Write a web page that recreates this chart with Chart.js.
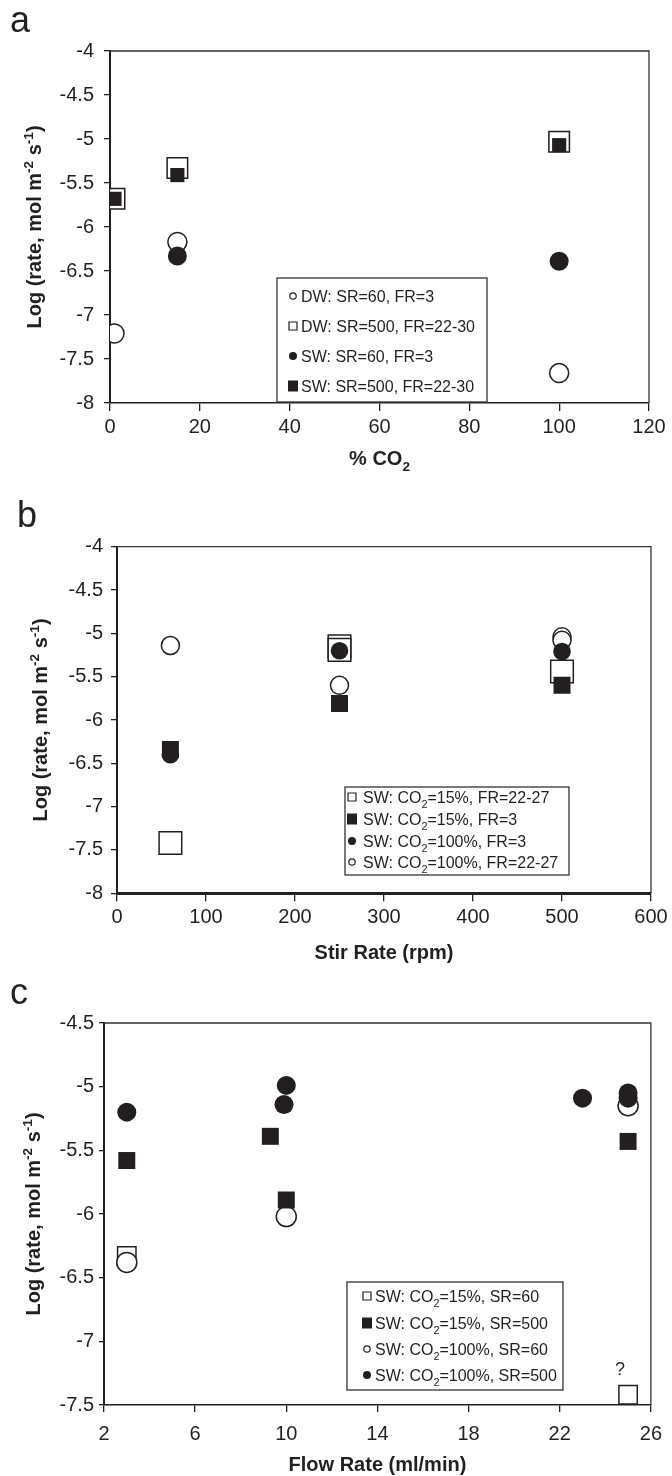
<!DOCTYPE html>
<html>
<head>
<meta charset="utf-8">
<script src="https://cdn.jsdelivr.net/npm/chart.js@4.4.0/dist/chart.umd.min.js"></script>
<style>
  body { margin: 0; background: #fff; width: 672px; height: 1476px; position: relative; overflow: hidden; }
  canvas { position: absolute; left: 0; display: block; }
</style>
</head>
<body>
<canvas id="ca" width="672" height="485" style="top:0px"></canvas>
<canvas id="cb" width="672" height="490" style="top:485px"></canvas>
<canvas id="cc" width="672" height="501" style="top:975px"></canvas>
<script>
// ---- panel a : % CO2 ----
const aDw60X = [1, 15, 100]
const aDw60Y = [-7.21, -6.17, -7.66]
const aDw500X = [1, 15, 100]
const aDw500Y = [-5.68, -5.33, -5.03]
const aSw60X = [15, 100]
const aSw60Y = [-6.33, -6.39]
const aSw500X = [1, 15, 100]
const aSw500Y = [-5.68, -5.41, -5.07]
const aLabels = ['DW: SR=60, FR=3', 'DW: SR=500, FR=22-30', 'SW: SR=60, FR=3', 'SW: SR=500, FR=22-30']

// ---- panel b : stir rate ----
const bOs15X = [60, 250, 250, 500]
const bOs15Y = [-7.42, -5.15, -5.19, -5.44]
const bFs15X = [60, 250, 500]
const bFs15Y = [-6.34, -5.81, -5.60]
const bFc100X = [60, 250, 500]
const bFc100Y = [-6.40, -5.20, -5.21]
const bOc100X = [60, 250, 500, 500]
const bOc100Y = [-5.14, -5.60, -5.04, -5.08]
const bLabels = ['SW: CO_{2}=15%, FR=22-27', 'SW: CO_{2}=15%, FR=3', 'SW: CO_{2}=100%, FR=3', 'SW: CO_{2}=100%, FR=22-27']

// ---- panel c : flow rate ----
const cOs15X = [3, 25]
const cOs15Y = [-6.33, -7.42]
const cFs15X = [3, 9.3, 10, 25]
const cFs15Y = [-5.58, -5.39, -5.89, -5.43]
const cOc100X = [3, 10, 25]
const cOc100Y = [-6.38, -6.02, -5.15]
const cFc100X = [3, 9.9, 10, 23, 25, 25]
const cFc100Y = [-5.20, -5.14, -4.99, -5.09, -5.05, -5.09]
const cLabels = ['SW: CO_{2}=15%, SR=60', 'SW: CO_{2}=15%, SR=500', 'SW: CO_{2}=100%, SR=60', 'SW: CO_{2}=100%, SR=500']
const cNote = { x: 25, y: -7.42, text: '?' }

const FONT = '"Liberation Sans", Arial, Helvetica, sans-serif'
const INK = '#231f20'
Chart.defaults.font.family = FONT
Chart.defaults.color = INK

function pts(xs, ys) {
    return xs.map((x, i) => ({ x: x, y: ys[i] }))
}

// kind: oc open circle, fc filled circle, os open square, fs filled square
function series(label, xs, ys, kind, r, order) {
    let open = kind[0] == 'o'
    return {
        label: label,
        data: pts(xs, ys),
        key: kind,
        order: order,
        pointStyle: kind[1] == 's' ? 'rect' : 'circle',
        pointRadius: r,
        pointHoverRadius: r,
        pointBackgroundColor: open ? '#fff' : INK,
        pointBorderColor: INK,
        pointBorderWidth: open ? 1.5 : 0
    }
}

// text with _{sub} and ^{sup} parts, y = baseline
function rich(ctx, str, x, y, size, weight, align) {
    let segs = str.split(/(_\{[^}]*\}|\^\{[^}]*\})/).filter(s => s).map(p => {
        if (p[0] == '_') return { t: p.slice(2, -1), s: size * 0.68, dy: size * 0.3 }
        if (p[0] == '^') return { t: p.slice(2, -1), s: size * 0.68, dy: -size * 0.42 }
        return { t: p, s: size, dy: 0 }
    })
    let w = 0
    segs.forEach(g => {
        ctx.font = weight + ' ' + g.s + 'px ' + FONT
        g.w = ctx.measureText(g.t).width
        w += g.w
    })
    let cx = align == 'center' ? x - w / 2 : x
    ctx.textAlign = 'left'
    ctx.textBaseline = 'alphabetic'
    segs.forEach(g => {
        ctx.font = weight + ' ' + g.s + 'px ' + FONT
        ctx.fillText(g.t, cx, y + g.dy)
        cx += g.w
    })
}

function drawKey(ctx, kind, x, y) {
    ctx.fillStyle = INK
    ctx.strokeStyle = INK
    ctx.lineWidth = 1.2
    ctx.beginPath()
    if (kind == 'oc') { ctx.arc(x, y, 3.2, 0, Math.PI * 2); ctx.fillStyle = '#fff'; ctx.fill(); ctx.stroke() }
    if (kind == 'fc') { ctx.arc(x, y, 4, 0, Math.PI * 2); ctx.fill() }
    if (kind == 'os') { ctx.rect(x - 4, y - 4, 8, 8); ctx.fillStyle = '#fff'; ctx.fill(); ctx.stroke() }
    if (kind == 'fs') { ctx.rect(x - 5, y - 5.5, 10, 11); ctx.fill() }
}

const decor = {
    id: 'decor',
    afterDraw(chart, args, o) {
        let ctx = chart.ctx, a = chart.chartArea
        ctx.save()
        ctx.strokeStyle = '#333'
        ctx.lineWidth = 1.3
        ctx.beginPath()
        ctx.moveTo(a.left, a.top)
        ctx.lineTo(a.right, a.top)
        ctx.lineTo(a.right, a.bottom)
        ctx.stroke()

        ctx.fillStyle = INK
        ctx.font = '36px ' + FONT
        ctx.textAlign = 'left'
        ctx.textBaseline = 'alphabetic'
        ctx.fillText(o.letter, o.letterX, o.letterY)

        rich(ctx, o.xTitle, (a.left + a.right) / 2, o.xTitleY, 20, 'bold', 'center')
        ctx.save()
        ctx.translate(o.yTitleX, (a.top + a.bottom) / 2)
        ctx.rotate(-Math.PI / 2)
        rich(ctx, o.yTitle, 0, 7, 20, 'bold', 'center')
        ctx.restore()

        let L = o.legend
        ctx.fillStyle = '#fff'
        ctx.fillRect(L.x, L.y, L.w, L.h)
        ctx.strokeStyle = '#333'
        ctx.lineWidth = 1.3
        ctx.strokeRect(L.x, L.y, L.w, L.h)
        L.order.forEach((di, i) => {
            let ds = chart.data.datasets[di]
            drawKey(ctx, ds.key, L.mx, L.rows[i])
            ctx.fillStyle = INK
            rich(ctx, ds.label, L.tx, L.rows[i] + 6, 16, 'normal', 'left')
        })

        if (o.note) {
            let px = chart.scales.x.getPixelForValue(o.note.x)
            let py = chart.scales.y.getPixelForValue(o.note.y)
            ctx.fillStyle = INK
            ctx.font = '18px ' + FONT
            ctx.textAlign = 'center'
            ctx.fillText(o.note.text, px - 8, py - 20)
        }
        ctx.restore()
    }
}

function makeChart(id, c) {
    return new Chart(id, {
        type: 'scatter',
        data: { datasets: c.datasets },
        plugins: [decor],
        options: {
            responsive: false,
            animation: false,
            devicePixelRatio: 1,
            layout: { padding: { left: 0, top: c.top, right: c.right, bottom: 0 } },
            plugins: {
                legend: { display: false },
                tooltip: { enabled: false },
                decor: c.decor
            },
            scales: {
                x: {
                    type: 'linear', min: c.xMin, max: c.xMax,
                    ticks: { stepSize: c.xStep, autoSkip: false, maxRotation: 0, padding: c.xPad, color: INK, font: { size: 20 }, callback: v => String(v) },
                    grid: { drawOnChartArea: false, tickLength: c.xTick, color: INK, lineWidth: 1.3 },
                    border: { color: INK, width: c.xBorder },
                    afterFit: s => { s.height = c.xH }
                },
                y: {
                    type: 'linear', min: c.yMin, max: c.yMax,
                    ticks: { stepSize: 0.5, autoSkip: false, padding: c.yPad, color: INK, font: { size: 20 }, callback: v => String(v) },
                    grid: { drawOnChartArea: false, tickLength: c.yTick, color: INK, lineWidth: 1.3 },
                    border: { color: INK, width: 2 },
                    afterFit: s => { s.width = c.yW }
                }
            }
        }
    })
}

const yTitle = 'Log (rate, mol m^{-2} s^{-1})'

makeChart('ca', {
    datasets: [
        series(aLabels[0], aDw60X, aDw60Y, 'oc', 9.5, 3),
        series(aLabels[1], aDw500X, aDw500Y, 'os', 14.5, 4),
        series(aLabels[2], aSw60X, aSw60Y, 'fc', 9.5, 1),
        series(aLabels[3], aSw500X, aSw500Y, 'fs', 10, 2)
    ],
    top: 51, right: 23, yW: 110, xH: 82,
    xMin: 0, xMax: 120, xStep: 20, yMin: -8, yMax: -4,
    xPad: 4, xTick: 8, yPad: 10, yTick: 6, xBorder: 1.6,
    decor: {
        letter: 'a', letterX: 10, letterY: 32,
        xTitle: '% CO_{2}', xTitleY: 465, yTitle: yTitle, yTitleX: 34,
        legend: { x: 277, y: 278, w: 210, h: 124, rows: [296, 326, 356, 386], mx: 293, tx: 301, order: [0, 1, 2, 3] }
    }
})

makeChart('cb', {
    datasets: [
        series(bLabels[0], bOs15X, bOs15Y, 'os', 16, 4),
        series(bLabels[1], bFs15X, bFs15Y, 'fs', 12, 2),
        series(bLabels[2], bFc100X, bFc100Y, 'fc', 8.8, 1),
        series(bLabels[3], bOc100X, bOc100Y, 'oc', 9, 3)
    ],
    top: 61.7, right: 21, yW: 117, xH: 81.7,
    xMin: 0, xMax: 600, xStep: 100, yMin: -8, yMax: -4,
    xPad: 4, xTick: 8, yPad: 8, yTick: 6, xBorder: 3,
    decor: {
        letter: 'b', letterX: 17, letterY: 41.7,
        xTitle: 'Stir Rate (rpm)', xTitleY: 473.6, yTitle: yTitle, yTitleX: 40,
        legend: { x: 345, y: 302, w: 224, h: 88, rows: [312, 334, 356, 377], mx: 352, tx: 363, order: [0, 1, 2, 3] }
    }
})

makeChart('cc', {
    datasets: [
        series(cLabels[0], cOs15X, cOs15Y, 'os', 13, 4),
        series(cLabels[1], cFs15X, cFs15Y, 'fs', 12, 2),
        series(cLabels[2], cOc100X, cOc100Y, 'oc', 10, 3),
        series(cLabels[3], cFc100X, cFc100Y, 'fc', 9.5, 1)
    ],
    top: 48, right: 16, yW: 104, xH: 71,
    xMin: 2, xMax: 26, xStep: 4, yMin: -7.5, yMax: -4.5,
    xPad: 10, xTick: 7, yPad: 5, yTick: 5, xBorder: 1.6,
    decor: {
        letter: 'c', letterX: 10, letterY: 29,
        xTitle: 'Flow Rate (ml/min)', xTitleY: 496, yTitle: yTitle, yTitleX: 33,
        legend: { x: 347, y: 307, w: 216, h: 108, rows: [321, 348, 374, 400], mx: 367, tx: 375, order: [0, 1, 2, 3] },
        note: cNote
    }
})
</script>
</body>
</html>
